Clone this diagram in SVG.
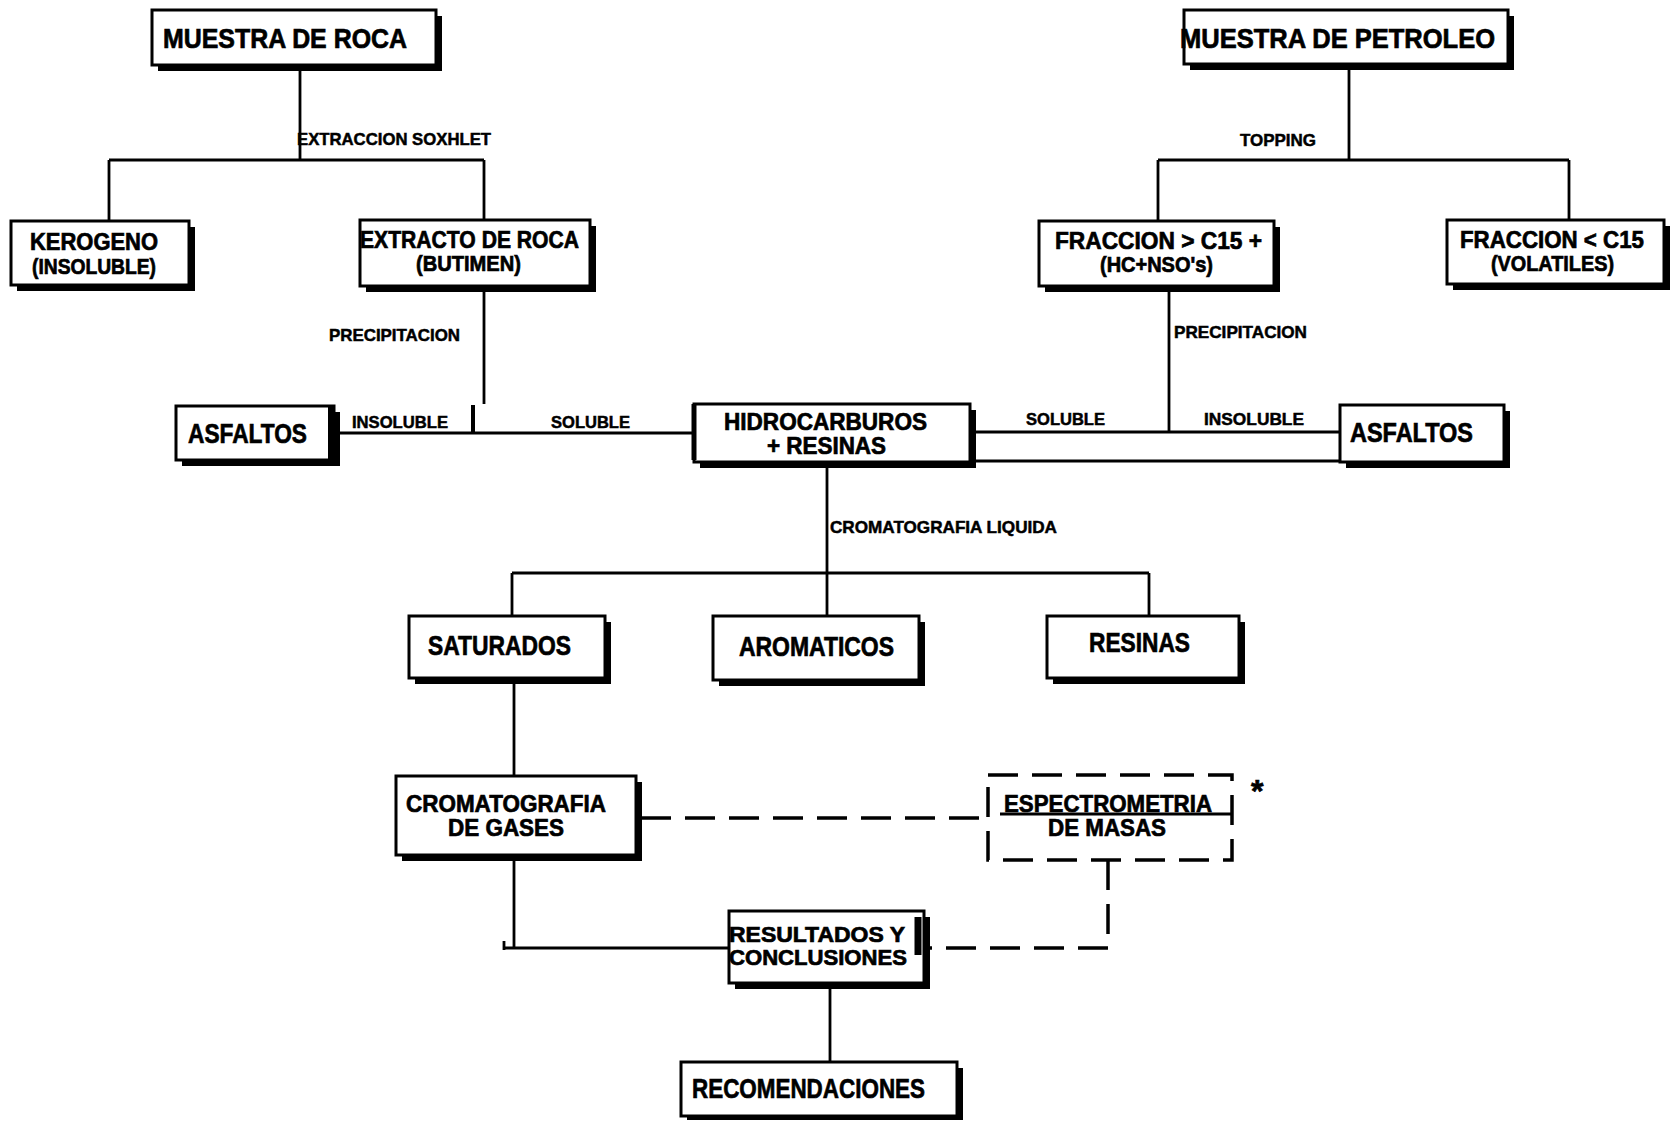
<svg xmlns="http://www.w3.org/2000/svg" width="1674" height="1121" viewBox="0 0 1674 1121">
  <style>
    .sh { fill: #000; }
    .bx { fill: #fff; stroke: #000; stroke-width: 3; }
    .dbx { fill: #fff; stroke: #000; stroke-width: 3.5; stroke-dasharray: 30 14; }
    .t { font-family: "Liberation Sans", Arial, sans-serif; font-weight: bold; fill: #000; stroke: #000; stroke-width: 0.7; }
    .big { font-size: 28px; }
    .mid { font-size: 24px; }
    .sub { font-size: 22px; }
    .lbl { font-size: 17px; stroke-width: 0.5; }
    .ln { fill: none; stroke: #000; stroke-width: 2.8; }
    .dash { fill: none; stroke: #000; stroke-width: 3.5; stroke-dasharray: 30 14; }
  </style>
  <rect width="1674" height="1121" fill="#fff"/>

  <!-- connectors -->
  <g id="connectors">
    <!-- rock sample: soxhlet extraction -->
    <path class="ln" d="M300 70 V160 M109 160 H484 M109 160 V221 M484 160 V220"/>
    <!-- oil sample: topping -->
    <path class="ln" d="M1349 68 V160 M1158 160 H1569 M1158 160 V221 M1569 160 V220"/>
    <!-- rock extract precipitation -->
    <path class="ln" d="M484 291 V404 M312 433 H694"/>
    <path d="M473 405 V434" stroke="#000" stroke-width="4"/>
    <!-- oil fraction precipitation -->
    <path class="ln" d="M1169 292 V432 M975 432 H1340 M975 461 H1340"/>
    <!-- liquid chromatography -->
    <path class="ln" d="M827 467 V616 M512 573 H1149 M512 573 V616 M1149 573 V616"/>
    <!-- saturates to gas chromatography -->
    <path class="ln" d="M514 683 V776"/>
    <!-- gas chromatography to results -->
    <path class="ln" d="M514 860 V948 M504 948 H729 M504 941 V950"/>
    <!-- gas chromatography to mass spectrometry -->
    <path class="dash" d="M641 818 H988"/>
    <!-- mass spectrometry to results -->
    <path class="dash" d="M1108 860 V948 H929"/>
    <!-- results to recommendations -->
    <path class="ln" d="M830 987 V1062"/>
  </g>

  <g id="muestra-roca">
    <rect class="sh" x="158" y="16" width="284" height="55"/>
    <rect class="bx" x="152" y="10" width="284" height="55"/>
    <text class="t big" x="163" y="48" textLength="244" lengthAdjust="spacingAndGlyphs">MUESTRA DE ROCA</text>
  </g>

  <g id="muestra-petroleo">
    <rect class="sh" x="1190" y="16" width="324" height="54"/>
    <rect class="bx" x="1184" y="10" width="324" height="54"/>
    <text class="t big" x="1180" y="48" textLength="315" lengthAdjust="spacingAndGlyphs">MUESTRA DE PETROLEO</text>
  </g>

  <g id="kerogeno">
    <rect class="sh" x="17" y="227" width="178" height="64"/>
    <rect class="bx" x="11" y="221" width="178" height="64"/>
    <text class="t mid" x="30" y="250" textLength="128" lengthAdjust="spacingAndGlyphs">KEROGENO</text>
    <text class="t sub" x="32" y="274" textLength="124" lengthAdjust="spacingAndGlyphs">(INSOLUBLE)</text>
  </g>

  <g id="extracto-roca">
    <rect class="sh" x="366" y="226" width="230" height="66"/>
    <rect class="bx" x="360" y="220" width="230" height="66"/>
    <text class="t mid" x="360" y="248" textLength="219" lengthAdjust="spacingAndGlyphs">EXTRACTO DE ROCA</text>
    <text class="t sub" x="416" y="271" textLength="105" lengthAdjust="spacingAndGlyphs">(BUTIMEN)</text>
  </g>

  <g id="fraccion-mayor">
    <rect class="sh" x="1045" y="227" width="235" height="65"/>
    <rect class="bx" x="1039" y="221" width="235" height="65"/>
    <text class="t mid" x="1055" y="249" textLength="207" lengthAdjust="spacingAndGlyphs">FRACCION &gt; C15 +</text>
    <text class="t sub" x="1100" y="272" textLength="113" lengthAdjust="spacingAndGlyphs">(HC+NSO's)</text>
  </g>

  <g id="fraccion-menor">
    <rect class="sh" x="1453" y="226" width="217" height="64"/>
    <rect class="bx" x="1447" y="220" width="217" height="64"/>
    <text class="t mid" x="1460" y="248" textLength="184" lengthAdjust="spacingAndGlyphs">FRACCION &lt; C15</text>
    <text class="t sub" x="1491" y="271" textLength="123" lengthAdjust="spacingAndGlyphs">(VOLATILES)</text>
  </g>

  <g id="asfaltos-roca">
    <rect class="sh" x="182" y="412" width="158" height="54"/>
    <rect class="bx" x="176" y="406" width="158" height="54"/>
    <path d="M331 406 V459" stroke="#000" stroke-width="6"/>
    <text class="t big" x="188" y="443" textLength="119" lengthAdjust="spacingAndGlyphs">ASFALTOS</text>
  </g>

  <g id="hidrocarburos">
    <rect class="sh" x="700" y="410" width="276" height="58"/>
    <rect class="bx" x="694" y="404" width="276" height="58"/>
    <path d="M694 404 V460" stroke="#000" stroke-width="5"/>
    <text class="t mid" x="724" y="430" textLength="203" lengthAdjust="spacingAndGlyphs">HIDROCARBUROS</text>
    <text class="t mid" x="767" y="454" textLength="119" lengthAdjust="spacingAndGlyphs">+ RESINAS</text>
  </g>

  <g id="asfaltos-petroleo">
    <rect class="sh" x="1346" y="411" width="164" height="57"/>
    <rect class="bx" x="1340" y="405" width="164" height="57"/>
    <text class="t big" x="1350" y="442" textLength="123" lengthAdjust="spacingAndGlyphs">ASFALTOS</text>
  </g>

  <g id="saturados">
    <rect class="sh" x="415" y="622" width="196" height="62"/>
    <rect class="bx" x="409" y="616" width="196" height="62"/>
    <text class="t big" x="428" y="655" textLength="143" lengthAdjust="spacingAndGlyphs">SATURADOS</text>
  </g>

  <g id="aromaticos">
    <rect class="sh" x="719" y="622" width="206" height="64"/>
    <rect class="bx" x="713" y="616" width="206" height="64"/>
    <text class="t big" x="739" y="656" textLength="155" lengthAdjust="spacingAndGlyphs">AROMATICOS</text>
  </g>

  <g id="resinas">
    <rect class="sh" x="1053" y="622" width="192" height="62"/>
    <rect class="bx" x="1047" y="616" width="192" height="62"/>
    <text class="t big" x="1089" y="652" textLength="101" lengthAdjust="spacingAndGlyphs">RESINAS</text>
  </g>

  <g id="cromatografia-gases">
    <rect class="sh" x="402" y="782" width="240" height="79"/>
    <rect class="bx" x="396" y="776" width="240" height="79"/>
    <text class="t mid" x="406" y="812" textLength="200" lengthAdjust="spacingAndGlyphs">CROMATOGRAFIA</text>
    <text class="t mid" x="448" y="836" textLength="116" lengthAdjust="spacingAndGlyphs">DE GASES</text>
  </g>

  <g id="espectrometria-masas">
    <rect class="dbx" x="988" y="775" width="244" height="85"/>
    <path class="ln" d="M1000 814 H1232"/>
    <text class="t mid" x="1004" y="812" textLength="208" lengthAdjust="spacingAndGlyphs">ESPECTROMETRIA</text>
    <text class="t mid" x="1048" y="836" textLength="118" lengthAdjust="spacingAndGlyphs">DE MASAS</text>
    <text class="t" x="1251" y="802" font-size="32">*</text>
  </g>

  <g id="resultados">
    <rect class="sh" x="735" y="917" width="195" height="72"/>
    <rect class="bx" x="729" y="911" width="195" height="72"/>
    <path d="M918 917 V955" stroke="#000" stroke-width="7"/>
    <text class="t sub" x="729" y="942" textLength="176" lengthAdjust="spacingAndGlyphs">RESULTADOS Y</text>
    <text class="t sub" x="729" y="965" textLength="178" lengthAdjust="spacingAndGlyphs">CONCLUSIONES</text>
  </g>

  <g id="recomendaciones">
    <rect class="sh" x="687" y="1068" width="276" height="52"/>
    <rect class="bx" x="681" y="1062" width="276" height="54"/>
    <text class="t big" x="692" y="1098" textLength="233" lengthAdjust="spacingAndGlyphs">RECOMENDACIONES</text>
  </g>

  <!-- connector labels -->
  <g id="labels">
    <text class="t lbl" x="297" y="145" textLength="194" lengthAdjust="spacingAndGlyphs">EXTRACCION SOXHLET</text>
    <text class="t lbl" x="1240" y="146" textLength="76" lengthAdjust="spacingAndGlyphs">TOPPING</text>
    <text class="t lbl" x="329" y="341" textLength="131" lengthAdjust="spacingAndGlyphs">PRECIPITACION</text>
    <text class="t lbl" x="352" y="428" textLength="96" lengthAdjust="spacingAndGlyphs">INSOLUBLE</text>
    <text class="t lbl" x="551" y="428" textLength="79" lengthAdjust="spacingAndGlyphs">SOLUBLE</text>
    <text class="t lbl" x="1174" y="338" textLength="133" lengthAdjust="spacingAndGlyphs">PRECIPITACION</text>
    <text class="t lbl" x="1026" y="425" textLength="79" lengthAdjust="spacingAndGlyphs">SOLUBLE</text>
    <text class="t lbl" x="1204" y="425" textLength="100" lengthAdjust="spacingAndGlyphs">INSOLUBLE</text>
    <text class="t lbl" x="830" y="533" textLength="227" lengthAdjust="spacingAndGlyphs">CROMATOGRAFIA LIQUIDA</text>
  </g>
</svg>
